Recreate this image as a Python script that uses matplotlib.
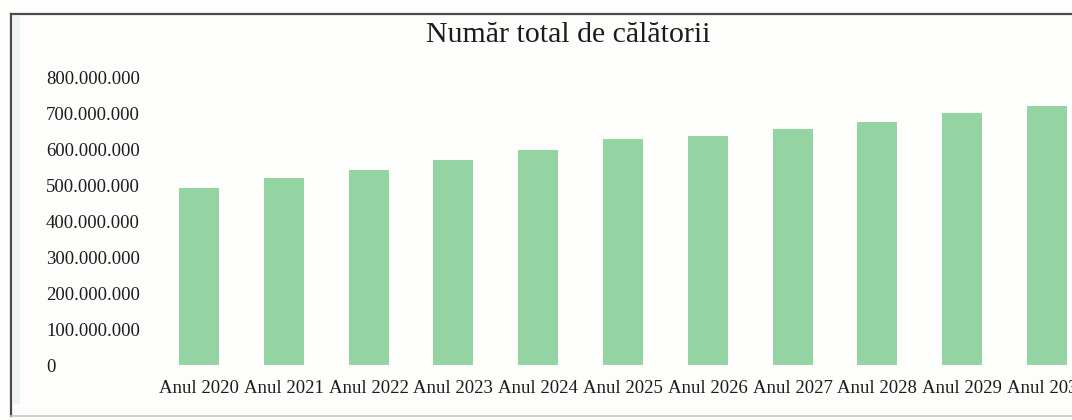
import matplotlib
matplotlib.use("Agg")
import matplotlib.pyplot as plt
from matplotlib.lines import Line2D
from matplotlib.patches import Rectangle
from matplotlib.ticker import FuncFormatter, MultipleLocator

years = ["Anul 2020", "Anul 2021", "Anul 2022", "Anul 2023", "Anul 2024",
         "Anul 2025", "Anul 2026", "Anul 2027", "Anul 2028", "Anul 2029",
         "Anul 2030"]
trips = [493e6, 521e6, 543e6, 571e6, 599e6,
         629e6, 639e6, 657e6, 678e6, 702e6, 721e6]

title = "Număr total de călătorii"
bar_color = "#94d3a2"
text_color = "#1c1c1c"


def dotted(v, pos):
    return f"{int(round(v)):,}".replace(",", ".")


def main():
    plt.rcParams["font.family"] = ["Liberation Serif", "DejaVu Serif"]
    W, H = 1072, 420
    fig = plt.figure(figsize=(W / 100, H / 100), dpi=100)
    fig.patch.set_facecolor("#fdfdfb")

    # chart frame (cropped scan: right side is outside the picture)
    fig.add_artist(Rectangle((13 / W, 16 / H), 7 / W, 388 / H,
                             transform=fig.transFigure, color="#eef4f3", lw=0))
    fig.add_artist(Line2D([11 / W, 1.0], [1 - 14 / H, 1 - 14 / H],
                          transform=fig.transFigure, color="#4a4a4a", lw=1.6))
    fig.add_artist(Line2D([11 / W, 11 / W], [1 - 14 / H, 1 - 416 / H],
                          transform=fig.transFigure, color="#4a4a4a", lw=1.6))
    fig.add_artist(Line2D([11 / W, 1.0], [1 - 416 / H, 1 - 416 / H],
                          transform=fig.transFigure, color="#c8c8c8", lw=1.2))

    left, right = 156.6, 1089.4
    bottom, top = 365, 78
    ax = fig.add_axes([left / W, 1 - bottom / H, (right - left) / W, (bottom - top) / H])
    ax.set_facecolor("none")

    x = range(len(years))
    ax.bar(x, trips, width=0.47, color=bar_color)
    ax.set_xlim(-0.5, len(years) - 0.5)
    ax.set_ylim(0, 800e6)
    ax.yaxis.set_major_locator(MultipleLocator(100e6))
    ax.yaxis.set_major_formatter(FuncFormatter(dotted))
    ax.set_xticks(list(x))
    ax.set_xticklabels(years)

    for s in ax.spines.values():
        s.set_visible(False)
    ax.tick_params(axis="both", length=0, labelsize=13.5, labelcolor=text_color)
    ax.tick_params(axis="y", pad=(left - 46) * 0.72)
    ax.tick_params(axis="x", pad=11)
    for lab in ax.get_yticklabels():
        lab.set_horizontalalignment("left")

    fig.text(568 / W, 1 - 35 / H, title, ha="center", va="center",
             fontsize=21.5, color=text_color)

    fig.savefig("out.png", dpi=100, facecolor=fig.get_facecolor())


if __name__ == "__main__":
    main()
